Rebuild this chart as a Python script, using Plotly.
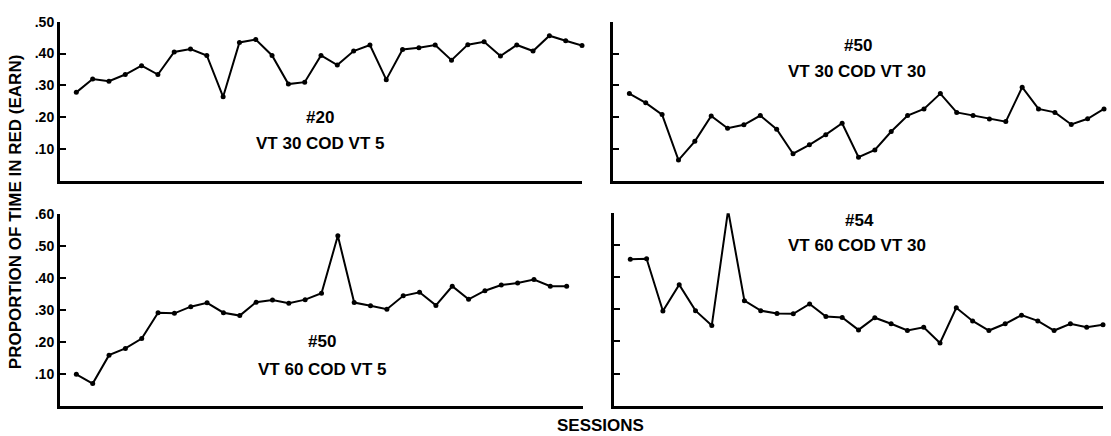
import plotly.graph_objects as go

# Proportion of session time spent in the red (EARN) component, per session
sessions_20 = list(range(1, 33))
bird20_vt30_cod5 = [0.278, 0.320, 0.313, 0.334, 0.362, 0.334, 0.405, 0.414, 0.394, 0.264,
                    0.435, 0.444, 0.394, 0.304, 0.310, 0.394, 0.364, 0.408, 0.427, 0.318,
                    0.413, 0.418, 0.427, 0.379, 0.428, 0.437, 0.392, 0.427, 0.408, 0.456,
                    0.440, 0.425]

sessions_50a = list(range(1, 31))
bird50_vt30_cod30 = [0.274, 0.245, 0.208, 0.065, 0.124, 0.204, 0.165, 0.176, 0.205, 0.162,
                     0.085, 0.113, 0.145, 0.181, 0.074, 0.097, 0.155, 0.205, 0.226, 0.274,
                     0.215, 0.205, 0.194, 0.186, 0.294, 0.226, 0.215, 0.177, 0.195, 0.226]

sessions_50b = list(range(1, 32))
bird50_vt60_cod5 = [0.098, 0.069, 0.158, 0.179, 0.210, 0.291, 0.289, 0.310, 0.322, 0.291,
                    0.282, 0.324, 0.331, 0.321, 0.332, 0.352, 0.532, 0.323, 0.313, 0.302,
                    0.344, 0.355, 0.314, 0.374, 0.333, 0.360, 0.378, 0.384, 0.395, 0.374,
                    0.374]

sessions_54 = list(range(1, 31))
bird54_vt60_cod30 = [0.456, 0.458, 0.295, 0.377, 0.296, 0.250, 0.609, 0.327, 0.296, 0.287,
                     0.286, 0.317, 0.278, 0.275, 0.236, 0.274, 0.255, 0.234, 0.244, 0.195,
                     0.305, 0.264, 0.234, 0.255, 0.282, 0.264, 0.234, 0.255, 0.244, 0.252]

top_ticks = [0.1, 0.2, 0.3, 0.4, 0.5]
top_tick_text = [".10", ".20", ".30", ".40", ".50"]
bottom_ticks = [0.1, 0.2, 0.3, 0.4, 0.5, 0.6]
bottom_tick_text = [".10", ".20", ".30", ".40", ".50", ".60"]

W, H = 1111, 436
FONT = "Liberation Sans, Arial, Helvetica, sans-serif"


def px_x(a, b):
    return [a / W, b / W]


def px_y(top, bottom):
    return [1 - bottom / H, 1 - top / H]


fig = go.Figure()

panels = [
    # (x, y, xaxis id, yaxis id)
    (sessions_20, bird20_vt30_cod5, "x", "y"),
    (sessions_50a, bird50_vt30_cod30, "x2", "y2"),
    (sessions_50b, bird50_vt60_cod5, "x3", "y3"),
    (sessions_54, bird54_vt60_cod30, "x4", "y4"),
]
for xs, ys, xa, ya in panels:
    fig.add_trace(go.Scatter(
        x=xs, y=ys, xaxis=xa, yaxis=ya, mode="lines+markers",
        line=dict(color="black", width=2),
        marker=dict(color="black", size=5),
        cliponaxis=False, showlegend=False, hoverinfo="skip",
    ))

xcommon = dict(showline=True, linecolor="black", linewidth=3, showgrid=False,
               zeroline=False, ticks="", showticklabels=False, fixedrange=True)
ycommon = dict(showline=True, linecolor="black", linewidth=3, showgrid=False,
               zeroline=False, ticks="inside", ticklen=6, tickwidth=2,
               tickcolor="black", tickfont=dict(family=FONT, size=14, color="black",
                                                weight="bold"),
               fixedrange=True)

fig.update_layout(
    width=W, height=H,
    margin=dict(l=0, r=0, t=0, b=0),
    paper_bgcolor="white", plot_bgcolor="white",
    xaxis=dict(domain=px_x(60, 582), range=[0, 32], anchor="y", **xcommon),
    yaxis=dict(domain=px_y(14, 176), range=[0, 0.5], anchor="x",
               tickvals=top_ticks, ticktext=top_tick_text, **ycommon),
    xaxis2=dict(domain=px_x(613, 1104), range=[0, 30], anchor="y2", **xcommon),
    yaxis2=dict(domain=px_y(14, 176), range=[0, 0.5], anchor="x2",
                tickvals=top_ticks, showticklabels=False, **ycommon),
    xaxis3=dict(domain=px_x(60, 583), range=[0, 32], anchor="y3", **xcommon),
    yaxis3=dict(domain=px_y(210, 405), range=[0, 0.6], anchor="x3",
                tickvals=bottom_ticks, ticktext=bottom_tick_text, **ycommon),
    xaxis4=dict(domain=px_x(614, 1103), range=[0, 30], anchor="y4", **xcommon),
    yaxis4=dict(domain=px_y(209, 405), range=[0, 0.6], anchor="x4",
                tickvals=bottom_ticks, showticklabels=False, **ycommon),
)

labels = [
    ("#20", 320, 112), ("VT 30 COD VT 5", 320, 138),
    ("#50", 858, 38), ("VT 30 COD VT 30", 857, 65),
    ("#50", 322, 340), ("VT 60 COD VT 5", 322, 368),
    ("#54", 859, 216), ("VT 60 COD VT 30", 857, 242),
]
for text, x, y in labels:
    fig.add_annotation(text=f"<b>{text}</b>", x=x / W, y=1 - y / H,
                       xref="paper", yref="paper", showarrow=False,
                       xanchor="center", yanchor="middle",
                       font=dict(family=FONT, size=17, color="black"))

fig.add_annotation(text="<b>SESSIONS</b>", x=600 / W, y=1 - 425 / H,
                   xref="paper", yref="paper", showarrow=False,
                   xanchor="center", yanchor="middle",
                   font=dict(family=FONT, size=17, color="black"))
fig.add_annotation(text="<b>PROPORTION OF TIME IN RED (EARN)</b>", x=15 / W,
                   y=1 - 208 / H, xref="paper", yref="paper", showarrow=False,
                   textangle=-90, xanchor="center", yanchor="middle",
                   font=dict(family=FONT, size=17, color="black"))

fig.write_html("out.html")
